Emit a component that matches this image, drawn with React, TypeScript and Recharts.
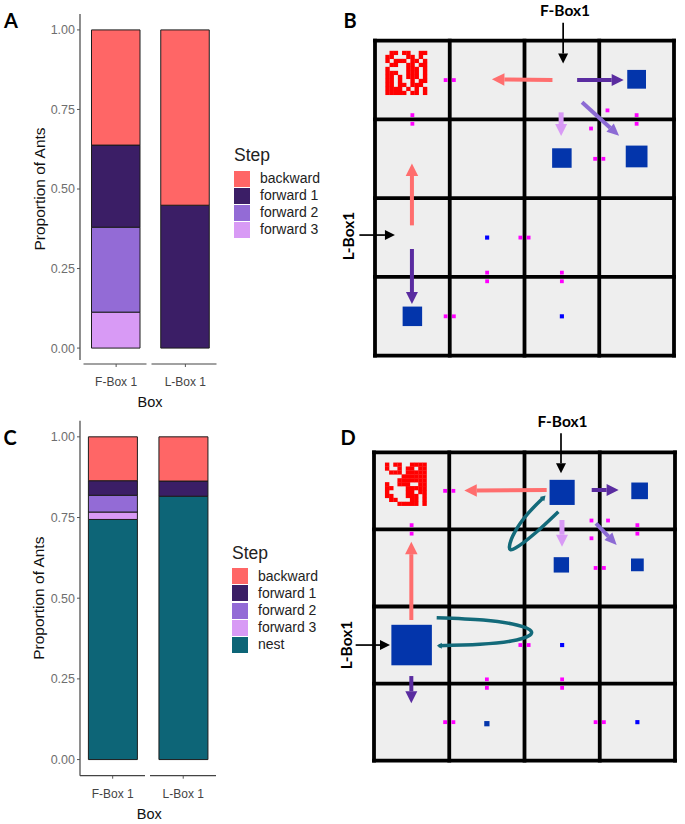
import React from "react";
import {
  BarChart, Bar, XAxis, YAxis, Legend, ComposedChart, CartesianGrid, Scatter, Line, ReferenceLine,
} from "recharts";

// ---------- stacked bars ----------
const boxes = ["F-Box 1", "L-Box 1"];
const forward3A = [0.113, 0];
const forward2A = [0.267, 0];
const forward1A = [0.258, 0.449];
const backwardA = [0.362, 0.551];
const nestC = [0.744, 0.816];
const forward3C = [0.023, 0];
const forward2C = [0.052, 0];
const forward1C = [0.045, 0.047];
const backwardC = [0.136, 0.137];
const proportionTicks = [0, 0.25, 0.5, 0.75, 1];

const stepColors: Record<string, string> = {
  backward: "#FF6666",
  "forward 1": "#3B1E66",
  "forward 2": "#936BD6",
  "forward 3": "#D89AF5",
  nest: "#0D6577",
};

const tableA = boxes.map((box, i) => ({
  box,
  "forward 3": forward3A[i],
  "forward 2": forward2A[i],
  "forward 1": forward1A[i],
  backward: backwardA[i],
}));
const tableC = boxes.map((box, i) => ({
  box,
  nest: nestC[i],
  "forward 3": forward3C[i],
  "forward 2": forward2C[i],
  "forward 1": forward1C[i],
  backward: backwardC[i],
}));

// ---------- maze maps (unit: maze cells, column / row from the top-left) ----------
const mazeLines = [0, 1, 2, 3, 4];

const bigBoxesB = [
  { x: 3.5, y: 0.49, side: 0.25 },
  { x: 2.5, y: 1.49, side: 0.26 },
  { x: 3.5, y: 1.47, side: 0.29 },
  { x: 0.5, y: 3.5, side: 0.26 },
];
const tinyBoxesB = [
  { x: 1.5, y: 2.5, side: 0.055 },
  { x: 2.5, y: 3.5, side: 0.055 },
];
const bigBoxesD = [
  { x: 2.5, y: 0.52, side: 0.335 },
  { x: 3.53, y: 0.5, side: 0.222 },
  { x: 2.49, y: 1.46, side: 0.205 },
  { x: 3.5, y: 1.46, side: 0.17 },
  { x: 0.5, y: 2.5, side: 0.54 },
  { x: 1.5, y: 3.52, side: 0.07 },
];
const tinyBoxesD = [
  { x: 2.5, y: 2.5, side: 0.055 },
  { x: 3.5, y: 3.5, side: 0.055 },
];

const doorsB = [
  [0.945, 0.5], [1.055, 0.5],
  [0.5, 0.945], [0.5, 1.055], [3.5, 0.945], [3.5, 1.055],
  [3.11, 0.885], [2.89, 1.115],
  [2.945, 1.5], [3.055, 1.5],
  [1.945, 2.5], [2.055, 2.5],
  [1.5, 2.945], [1.5, 3.055], [2.5, 2.945], [2.5, 3.055],
  [0.945, 3.5], [1.055, 3.5],
].map(([x, y]) => ({ x, y }));
const doorsD = [
  [0.945, 0.5], [1.055, 0.5],
  [0.5, 0.945], [0.5, 1.055], [3.5, 0.945], [3.5, 1.055],
  [2.89, 0.885], [3.11, 0.885], [2.89, 1.115],
  [2.945, 1.5], [3.055, 1.5],
  [1.945, 2.5], [2.055, 2.5],
  [1.5, 2.945], [1.5, 3.055], [2.5, 2.945], [2.5, 3.055],
  [0.945, 3.5], [1.055, 3.5], [2.945, 3.5], [3.055, 3.5],
].map(([x, y]) => ({ x, y }));

const nestRowsB = [
  ".##.##..##",
  "##...##.#.",
  "#.###.##.#",
  ".##..##.##",
  "#....###.#",
  "###..###.#",
  "##.#.###.#",
  "##.#..#.##",
  "##.##.###.",
  "####.#.#.#",
  "#####.##.#",
];
const nestRowsD = [
  "#.##..####",
  "#..#.##.##",
  ".###.#####",
  "....######",
  "...#######",
  "#..###..##",
  "##...#####",
  "#....##.##",
  "##...###.#",
  ".##...##.#",
  "...#####.#",
];

type Arrow = { from: number[]; to: number[]; kind: string };
const arrowsB: Arrow[] = [
  { from: [2.374, 0.5], to: [1.564, 0.49], kind: "backward" },
  { from: [2.704, 0.5], to: [3.327, 0.5], kind: "forward 1" },
  { from: [2.77, 0.783], to: [3.265, 1.206], kind: "forward 2" },
  { from: [2.49, 0.91], to: [2.49, 1.21], kind: "forward 3" },
  { from: [0.494, 2.345], to: [0.494, 1.558], kind: "backward" },
  { from: [0.494, 2.645], to: [0.494, 3.344], kind: "forward 1" },
  { from: [2.517, -0.229], to: [2.517, 0.288], kind: "entry" },
  { from: [-0.209, 2.468], to: [0.267, 2.468], kind: "entry" },
];
const arrowsD: Arrow[] = [
  { from: [2.295, 0.489], to: [1.2, 0.497], kind: "backward" },
  { from: [2.893, 0.489], to: [3.251, 0.489], kind: "forward 1" },
  { from: [2.95, 0.921], to: [3.225, 1.202], kind: "forward 2" },
  { from: [2.498, 0.878], to: [2.498, 1.224], kind: "forward 3" },
  { from: [0.496, 2.175], to: [0.496, 1.159], kind: "backward" },
  { from: [0.496, 2.902], to: [0.496, 3.256], kind: "forward 1" },
  { from: [2.485, -0.246], to: [2.485, 0.272], kind: "entry" },
  { from: [-0.244, 2.5], to: [0.213, 2.5], kind: "entry" },
  { from: [2.2, 0.64], to: [2.28, 0.56], kind: "return" },
  { from: [0.9, 2.508], to: [0.835, 2.508], kind: "return" },
];
const returnLoopUpper = [
  { x: 2.45, y: 0.77 }, { x: 2.14, y: 1.05 }, { x: 1.874, y: 1.245 }, { x: 1.8, y: 1.224 },
  { x: 1.874, y: 1.03 }, { x: 2.05, y: 0.79 }, { x: 2.25, y: 0.59 },
];
const returnLoopLower = [
  { x: 0.833, y: 2.145 }, { x: 1.453, y: 2.175 }, { x: 1.896, y: 2.24 }, { x: 2.095, y: 2.335 },
  { x: 1.896, y: 2.435 }, { x: 1.409, y: 2.49 }, { x: 0.86, y: 2.508 },
];

const arrowStyles: Record<string, { color: string; w: number; headL: number; headW: number }> = {
  backward: { color: "#FF6E6E", w: 4, headL: 12.5, headW: 12.5 },
  "forward 1": { color: "#5A2CA0", w: 4, headL: 12, headW: 12 },
  "forward 2": { color: "#8C6AD4", w: 4, headL: 12, headW: 11 },
  "forward 3": { color: "#D89AF5", w: 5, headL: 12, headW: 12 },
  entry: { color: "#000000", w: 1.7, headL: 10, headW: 10 },
  return: { color: "#136A7A", w: 1.5, headL: 5, headW: 6 },
};

const FONT = "'Liberation Sans', Arial, sans-serif";
const LABEL_FONT = "Lato, 'Open Sans', sans-serif";

function StepLegend(props: any) {
  const items = props.payload || [];
  return (
    <div style={{ fontFamily: FONT, color: "#222" }}>
      <div style={{ fontSize: 17.5, lineHeight: "20px", height: 25 }}>Step</div>
      {items.map((it: any) => (
        <div key={it.value} style={{ display: "flex", alignItems: "center", height: 17.15 }}>
          <span style={{ width: 16, height: 16, background: stepColors[it.value], display: "block" }} />
          <span style={{ marginLeft: 10, fontSize: 14, lineHeight: "17px" }}>{it.value}</span>
        </div>
      ))}
    </div>
  );
}

function StackedPanel(p: {
  table: any[]; keys: string[]; top: number; height: number; plotTop: number; axisH: number;
  padLeft: number; plotRight: number; barW: number; xDash: string; yDash?: string; legendTop: number; legendLeft: number;
  tickGap: number; boxOffset: number;
}) {
  return (
    <div style={{ position: "absolute", left: 0, top: p.top }}>
      <BarChart
        width={340}
        height={p.height}
        data={p.table}
        margin={{ top: p.plotTop, right: 340 - p.plotRight, left: 0, bottom: 0 }}
        style={{ fontFamily: FONT }}
        barSize={p.barW}
      >
        <XAxis
          dataKey="box"
          type="category"
          height={p.axisH}
          padding={{ left: p.padLeft, right: 0 }}
          axisLine={{ stroke: "#444", strokeWidth: 1.2, strokeDasharray: p.xDash }}
          tickLine={{ stroke: "#555" }}
          tickSize={3}
          tick={{ fill: "#444", fontSize: 12 }}
          tickMargin={p.tickGap}
          interval={0}
          label={{ value: "Box", position: "insideBottom", offset: p.boxOffset, fontSize: 14.5, fill: "#111" }}
        />
        <YAxis
          width={80}
          type="number"
          domain={[-0.05, 1.05]}
          ticks={proportionTicks}
          allowDataOverflow
          axisLine={{ stroke: "#444", strokeWidth: 1.2, strokeDasharray: p.yDash }}
          tickLine={{ stroke: "#555" }}
          tickSize={3}
          tick={{ fill: "#6e6e6e", fontSize: 12.5 }}
          tickFormatter={(v: number) => v.toFixed(2)}
          label={{ value: "Proportion of Ants", angle: -90, position: "insideLeft", dx: 34, style: { textAnchor: "middle" }, fontSize: 15.5, fill: "#111" }}
        />
        {p.keys.map((k) => (
          <Bar key={k} dataKey={k} stackId="s" fill={stepColors[k]} stroke="#1c1c1c" strokeWidth={1} isAnimationActive={false} />
        ))}
        <Legend
          layout="vertical"
          align="center"
          verticalAlign="middle"
          content={StepLegend}
          wrapperStyle={{ left: p.legendLeft, top: p.legendTop, width: 105, bottom: "auto", right: "auto", margin: 0 }}
        />
      </BarChart>
    </div>
  );
}

const arrowShape = (kind: string) => (pr: any) => {
  const s = arrowStyles[kind];
  const { x1, y1, x2, y2 } = pr;
  const len = Math.hypot(x2 - x1, y2 - y1) || 1;
  const ux = (x2 - x1) / len;
  const uy = (y2 - y1) / len;
  const bx = x2 - ux * s.headL;
  const by = y2 - uy * s.headL;
  const nx = -uy * (s.headW / 2);
  const ny = ux * (s.headW / 2);
  return (
    <g>
      <line x1={x1} y1={y1} x2={bx} y2={by} stroke={s.color} strokeWidth={s.w} />
      <polygon points={`${x2},${y2} ${bx + nx},${by + ny} ${bx - nx},${by - ny}`} fill={s.color} />
    </g>
  );
};

const boxShape = (color: string) => (pr: any) => {
  const side = pr.payload.side * 75;
  return <rect x={pr.cx - side / 2} y={pr.cy - side / 2} width={side} height={side} fill={color} />;
};
const doorShape = (pr: any) => <rect x={pr.cx - 1.9} y={pr.cy - 1.9} width={3.8} height={3.8} fill="#FF00FF" />;

function nestCells(rows: string[], x0: number, y0: number, dx: number, dy: number) {
  const out: { x: number; y: number }[] = [];
  rows.forEach((row, r) => {
    row.split("").forEach((c, i) => {
      if (c === "#") out.push({ x: x0 + (i + 0.5) * dx, y: y0 + (r + 0.5) * dy });
    });
  });
  return out;
}
const nestShape = (pr: any) => <rect x={pr.cx - 2.2} y={pr.cy - 2.1} width={4.4} height={4.2} fill="#FF0000" />;

function MazePanel(p: {
  top: number; m: { top: number; left: number; right: number; bottom: number };
  big: any[]; tiny: any[]; doors: any[]; nest: any[]; arrows: Arrow[]; loops: any[][];
}) {
  return (
    <div style={{ position: "absolute", left: 340, top: p.top }}>
      <ComposedChart width={345} height={400} margin={p.m}>
        <CartesianGrid
          fill="#EEEEEE"
          fillOpacity={1}
          stroke="#000"
          strokeWidth={3.8}
          strokeDasharray=""
          strokeLinecap="square"
          horizontalValues={mazeLines}
          verticalValues={mazeLines}
        />
        <XAxis hide type="number" dataKey="x" domain={[0, 4]} ticks={mazeLines} allowDataOverflow />
        <YAxis hide type="number" dataKey="y" domain={[0, 4]} ticks={mazeLines} reversed allowDataOverflow />
        <Scatter data={p.nest} shape={nestShape} isAnimationActive={false} />
        <Scatter data={p.doors} shape={doorShape} isAnimationActive={false} />
        <Scatter data={p.big} shape={boxShape("#0335AB")} isAnimationActive={false} />
        <Scatter data={p.tiny} shape={boxShape("#0000FF")} isAnimationActive={false} />
        {p.loops.map((loop, i) => (
          <Line key={i} data={loop} dataKey="y" type="natural" stroke="#136A7A" strokeWidth={3.5} dot={false} activeDot={false} isAnimationActive={false} />
        ))}
        {p.arrows.map((a, i) => (
          <ReferenceLine
            key={i}
            ifOverflow="visible"
            segment={[{ x: a.from[0], y: a.from[1] }, { x: a.to[0], y: a.to[1] }]}
            shape={arrowShape(a.kind)}
          />
        ))}
      </ComposedChart>
    </div>
  );
}

function Tag(p: { x: number; y: number; size: number; text: string; rotate?: boolean }) {
  return (
    <div
      style={{
        position: "absolute",
        left: p.x,
        top: p.y,
        transform: `translate(-50%,-50%)${p.rotate ? " rotate(-90deg)" : ""}`,
        fontFamily: LABEL_FONT,
        fontWeight: 700,
        fontSize: p.size,
        lineHeight: 1,
        color: "#000",
        whiteSpace: "nowrap",
      }}
    >
      {p.text}
    </div>
  );
}

const keysA = ["forward 3", "forward 2", "forward 1", "backward"];
const keysC = ["nest", "forward 3", "forward 2", "forward 1", "backward"];

export default function App() {
  return (
    <div style={{ position: "absolute", left: 0, top: 0, width: 685, height: 824, background: "#fff", overflow: "hidden" }}>
      <StackedPanel
        table={tableA} keys={keysA} top={0} height={410} plotTop={14} axisH={46}
        padLeft={1.5} plotRight={220} barW={48.5}
        xDash="0 3.5 63 5 65 100" yDash="346 100"
        legendLeft={234} legendTop={145} tickGap={10} boxOffset={3}
      />
      <StackedPanel
        table={tableC} keys={keysC} top={410} height={414} plotTop={10.7} axisH={48.3}
        padLeft={-2.6} plotRight={218.5} barW={49}
        xDash="65 5 66 3 1.5 100"
        legendLeft={232} legendTop={132.7} tickGap={11} boxOffset={5}
      />
      <MazePanel
        top={0}
        m={{ top: 40.7, left: 35, right: 11, bottom: 44.3 }}
        big={bigBoxesB} tiny={tinyBoxesB} doors={doorsB}
        nest={nestCells(nestRowsB, 0.14, 0.13, 0.0558, 0.0508)}
        arrows={arrowsB} loops={[]}
      />
      <MazePanel
        top={405}
        m={{ top: 47.3, left: 34, right: 10, bottom: 44.3 }}
        big={bigBoxesD} tiny={tinyBoxesD} doors={doorsD}
        nest={nestCells(nestRowsD, 0.147, 0.135, 0.0553, 0.0508)}
        arrows={arrowsD} loops={[returnLoopUpper, returnLoopLower]}
      />
      <Tag x={11} y={20} size={20} text="A" />
      <Tag x={350} y={20} size={20} text="B" />
      <Tag x={10} y={437} size={20} text="C" />
      <Tag x={348} y={437} size={20} text="D" />
      <Tag x={565} y={11} size={15.5} text="F-Box1" />
      <Tag x={562.5} y={422} size={15.5} text="F-Box1" />
      <Tag x={349} y={236} size={15.5} text="L-Box1" rotate />
      <Tag x={347} y={645} size={15.5} text="L-Box1" rotate />
    </div>
  );
}
